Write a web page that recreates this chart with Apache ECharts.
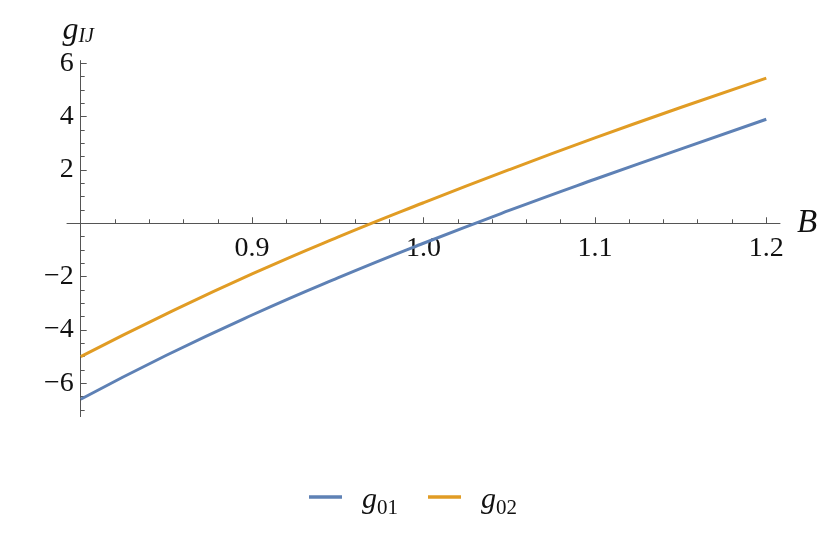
<!DOCTYPE html>
<html>
<head>
<meta charset="utf-8">
<script src="https://cdn.jsdelivr.net/npm/echarts/dist/echarts.min.js"></script>
<style>
  html, body { margin: 0; padding: 0; background: #fff; }
  #main { width: 830px; height: 535px; }
</style>
</head>
<body>
<div id="main"></div>
<script>
var B = [0.8, 0.85, 0.9, 0.95, 1.0, 1.05, 1.1, 1.15, 1.2];
var g01 = [-6.6, -4.95, -3.44, -2.05, -0.75, 0.48, 1.65, 2.78, 3.9];
var g02 = [-5.0, -3.4, -1.9, -0.52, 0.77, 2.01, 3.2, 4.34, 5.44];

var xMajor = [0.9, 1.0, 1.1, 1.2];
var xMinor = [0.82, 0.84, 0.86, 0.88, 0.92, 0.94, 0.96, 0.98, 1.02, 1.04, 1.06, 1.08,
              1.12, 1.14, 1.16, 1.18];
var yMajor = [-6, -4, -2, 2, 4, 6];
var yMinor = [-7, -6.5, -5.5, -5, -4.5, -3.5, -3, -2.5, -1.5, -1, -0.5,
              0.5, 1, 1.5, 2.5, 3, 3.5, 4.5, 5, 5.5];

var serif = '"Liberation Serif", "DejaVu Serif", serif';
var axisCol = '#555';

function pairs(xs, ys) {
    return xs.map(function (x, i) { return [x, ys[i]]; });
}

var chartDom = document.getElementById('main');
var myChart = echarts.init(chartDom);

var xBase = {
    type: 'value', min: 0.792, max: 1.208, position: 'bottom',
    splitLine: { show: false },
    axisLine: { onZero: true, lineStyle: { color: axisCol, width: 1 } }
};
var yBase = {
    type: 'value', min: -7.25, max: 6.1, position: 'left', offset: -13.7,
    splitLine: { show: false },
    axisLine: { onZero: false, lineStyle: { color: axisCol, width: 1 } }
};

var option = {
    animation: false,
    backgroundColor: '#fff',
    grid: { left: 67, top: 60.6, width: 713, height: 356, containLabel: false, outerBoundsMode: 'none' },
    xAxis: [
        Object.assign({}, xBase, {
            name: 'B',
            nameLocation: 'end',
            nameGap: 17,
            nameTextStyle: { fontFamily: serif, fontStyle: 'italic', fontSize: 33, color: '#111', align: 'left', verticalAlign: 'middle', padding: [0, 0, 4, 0] },
            axisTick: { show: true, inside: true, length: 6, customValues: xMajor, lineStyle: { color: axisCol } },
            axisLabel: {
                customValues: xMajor, margin: -182, fontFamily: serif, fontSize: 28, color: '#111',
                formatter: function (v) { return v.toFixed(1); }
            }
        }),
        Object.assign({}, xBase, {
            axisLine: { show: false, onZero: true },
            axisTick: { show: true, inside: true, length: 4, customValues: xMinor, lineStyle: { color: axisCol } },
            axisLabel: { show: false }
        })
    ],
    yAxis: [
        Object.assign({}, yBase, {
            name: '{g|g}{s|IJ}',
            nameLocation: 'end',
            nameGap: 14,
            nameTextStyle: {
                padding: [0, 5, 0, 0],
                rich: {
                    g: { fontFamily: serif, fontStyle: 'italic', fontSize: 32, color: '#111', lineHeight: 34, verticalAlign: 'bottom' },
                    s: { fontFamily: serif, fontStyle: 'italic', fontSize: 20, color: '#111', lineHeight: 34, verticalAlign: 'bottom' }
                }
            },
            axisTick: { show: true, inside: true, length: 6, customValues: yMajor, lineStyle: { color: axisCol } },
            axisLabel: {
                customValues: yMajor, margin: 7, fontFamily: serif, fontSize: 28, color: '#111',
                formatter: function (v) { return v < 0 ? '\u2212' + Math.abs(v) : String(v); }
            }
        }),
        Object.assign({}, yBase, {
            axisLine: { show: false, onZero: false },
            axisTick: { show: true, inside: true, length: 4, customValues: yMinor, lineStyle: { color: axisCol } },
            axisLabel: { show: false }
        })
    ],
    legend: {
        left: 304,
        top: 480,
        icon: 'rect',
        itemWidth: 33,
        itemHeight: 3.5,
        itemGap: 30,
        formatter: function (name) { return '{g|g}{s|' + name.slice(1) + '}'; },
        textStyle: {
            rich: {
                g: { fontFamily: serif, fontStyle: 'italic', fontSize: 30, color: '#111', lineHeight: 44, verticalAlign: 'bottom', padding: [0, 0, 4, 15] },
                s: { fontFamily: serif, fontSize: 21, color: '#111', lineHeight: 44, verticalAlign: 'bottom' }
            }
        },
        data: ['g01', 'g02']
    },
    color: ['#5E81B5', '#E19C24'],
    series: [
        {
            name: 'g01', type: 'line', xAxisIndex: 0, yAxisIndex: 0,
            data: pairs(B, g01), smooth: true, showSymbol: false,
            lineStyle: { width: 3 }
        },
        {
            name: 'g02', type: 'line', xAxisIndex: 0, yAxisIndex: 0,
            data: pairs(B, g02), smooth: true, showSymbol: false,
            lineStyle: { width: 3 }
        }
    ]
};

option && myChart.setOption(option);
</script>
</body>
</html>
